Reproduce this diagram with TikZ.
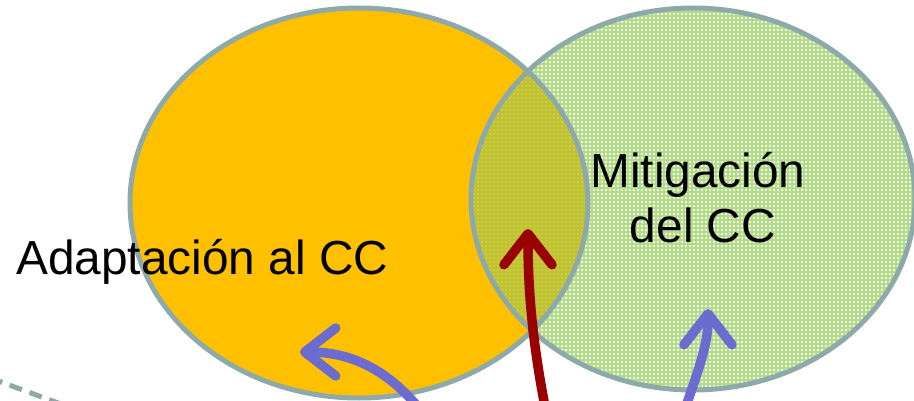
\documentclass[tikz,border=0pt]{standalone}
\usepackage{fontspec}
\setmainfont{Liberation Sans}
\usetikzlibrary{arrows.meta}
\definecolor{orangefill}{HTML}{FFC000}
\definecolor{greenbase}{HTML}{F2F9EA}
\definecolor{greenline}{HTML}{B2DC88}
\definecolor{overlapline}{HTML}{9CC95C}
\definecolor{outline}{HTML}{8EA9A9}
\definecolor{purplearrow}{HTML}{6B6BD0}
\definecolor{redarrow}{HTML}{990000}
\tikzset{
  vennline/.style={draw=outline, line width=5pt},
  bigarrow/.style={line width=9.5pt, line cap=round,
    -{Straight Barb[length=31pt,width=48pt,line cap=round,line join=round]}},
  label/.style={inner sep=0pt, font=\fontsize{47.8}{55}\selectfont, text=black},
  dashline/.style={draw=outline, line width=5pt, dash pattern=on 13pt off 8pt}
}
\begin{document}
\begin{tikzpicture}[x=1pt,y=-1pt]
\useasboundingbox (0,0) rectangle (914,401);
% coordinates
\coordinate (Ac) at (359,203);
\coordinate (Mc) at (693,199);
% orange ellipse
\fill[orangefill] (Ac) ellipse [x radius=229pt, y radius=195pt];
% green ellipse
\begin{scope}
  \fill[greenbase] (Mc) ellipse [x radius=222pt, y radius=191pt];
  \clip (Mc) ellipse [x radius=222pt, y radius=191pt];
  \draw[greenline, line width=1.6pt, step=4pt] (468,4) grid (918,396);
  \clip (Ac) ellipse [x radius=229pt, y radius=195pt];
  \fill[orangefill] (Ac) ellipse [x radius=229pt, y radius=195pt];
  \draw[overlapline, opacity=0.8, line width=1.6pt, step=4pt] (468,4) grid (918,396);
\end{scope}
% outlines
\draw[vennline] (Ac) ellipse [x radius=229pt, y radius=195pt];
\draw[vennline] (Mc) ellipse [x radius=222pt, y radius=191pt];
% dashed line
\coordinate (d1) at (-10,378);
\coordinate (d2) at (80,411);
\draw[dashline] (d1) -- (d2);
% labels
\node[label, anchor=base west] (adapt) at (16,275) {Adaptación al CC};
\node[label, anchor=base] (mit1) at (698,188) {Mitigación};
\node[label, anchor=base] (mit2) at (703,243) {del CC};
% arrows
\coordinate (p1s) at (422,412);
\coordinate (p1e) at (300,352);
\draw[bigarrow, purplearrow] (p1s) .. controls (385,365) and (345,352) .. (p1e);
\coordinate (rs) at (546,412);
\coordinate (re) at (528,229);
\draw[bigarrow, redarrow] (rs) .. controls (532,340) and (528,290) .. (re);
\coordinate (p2s) at (684,412);
\coordinate (p2e) at (708,309);
\draw[bigarrow, purplearrow] (p2s) .. controls (700,365) and (708,345) .. (p2e);
\end{tikzpicture}
\end{document}
